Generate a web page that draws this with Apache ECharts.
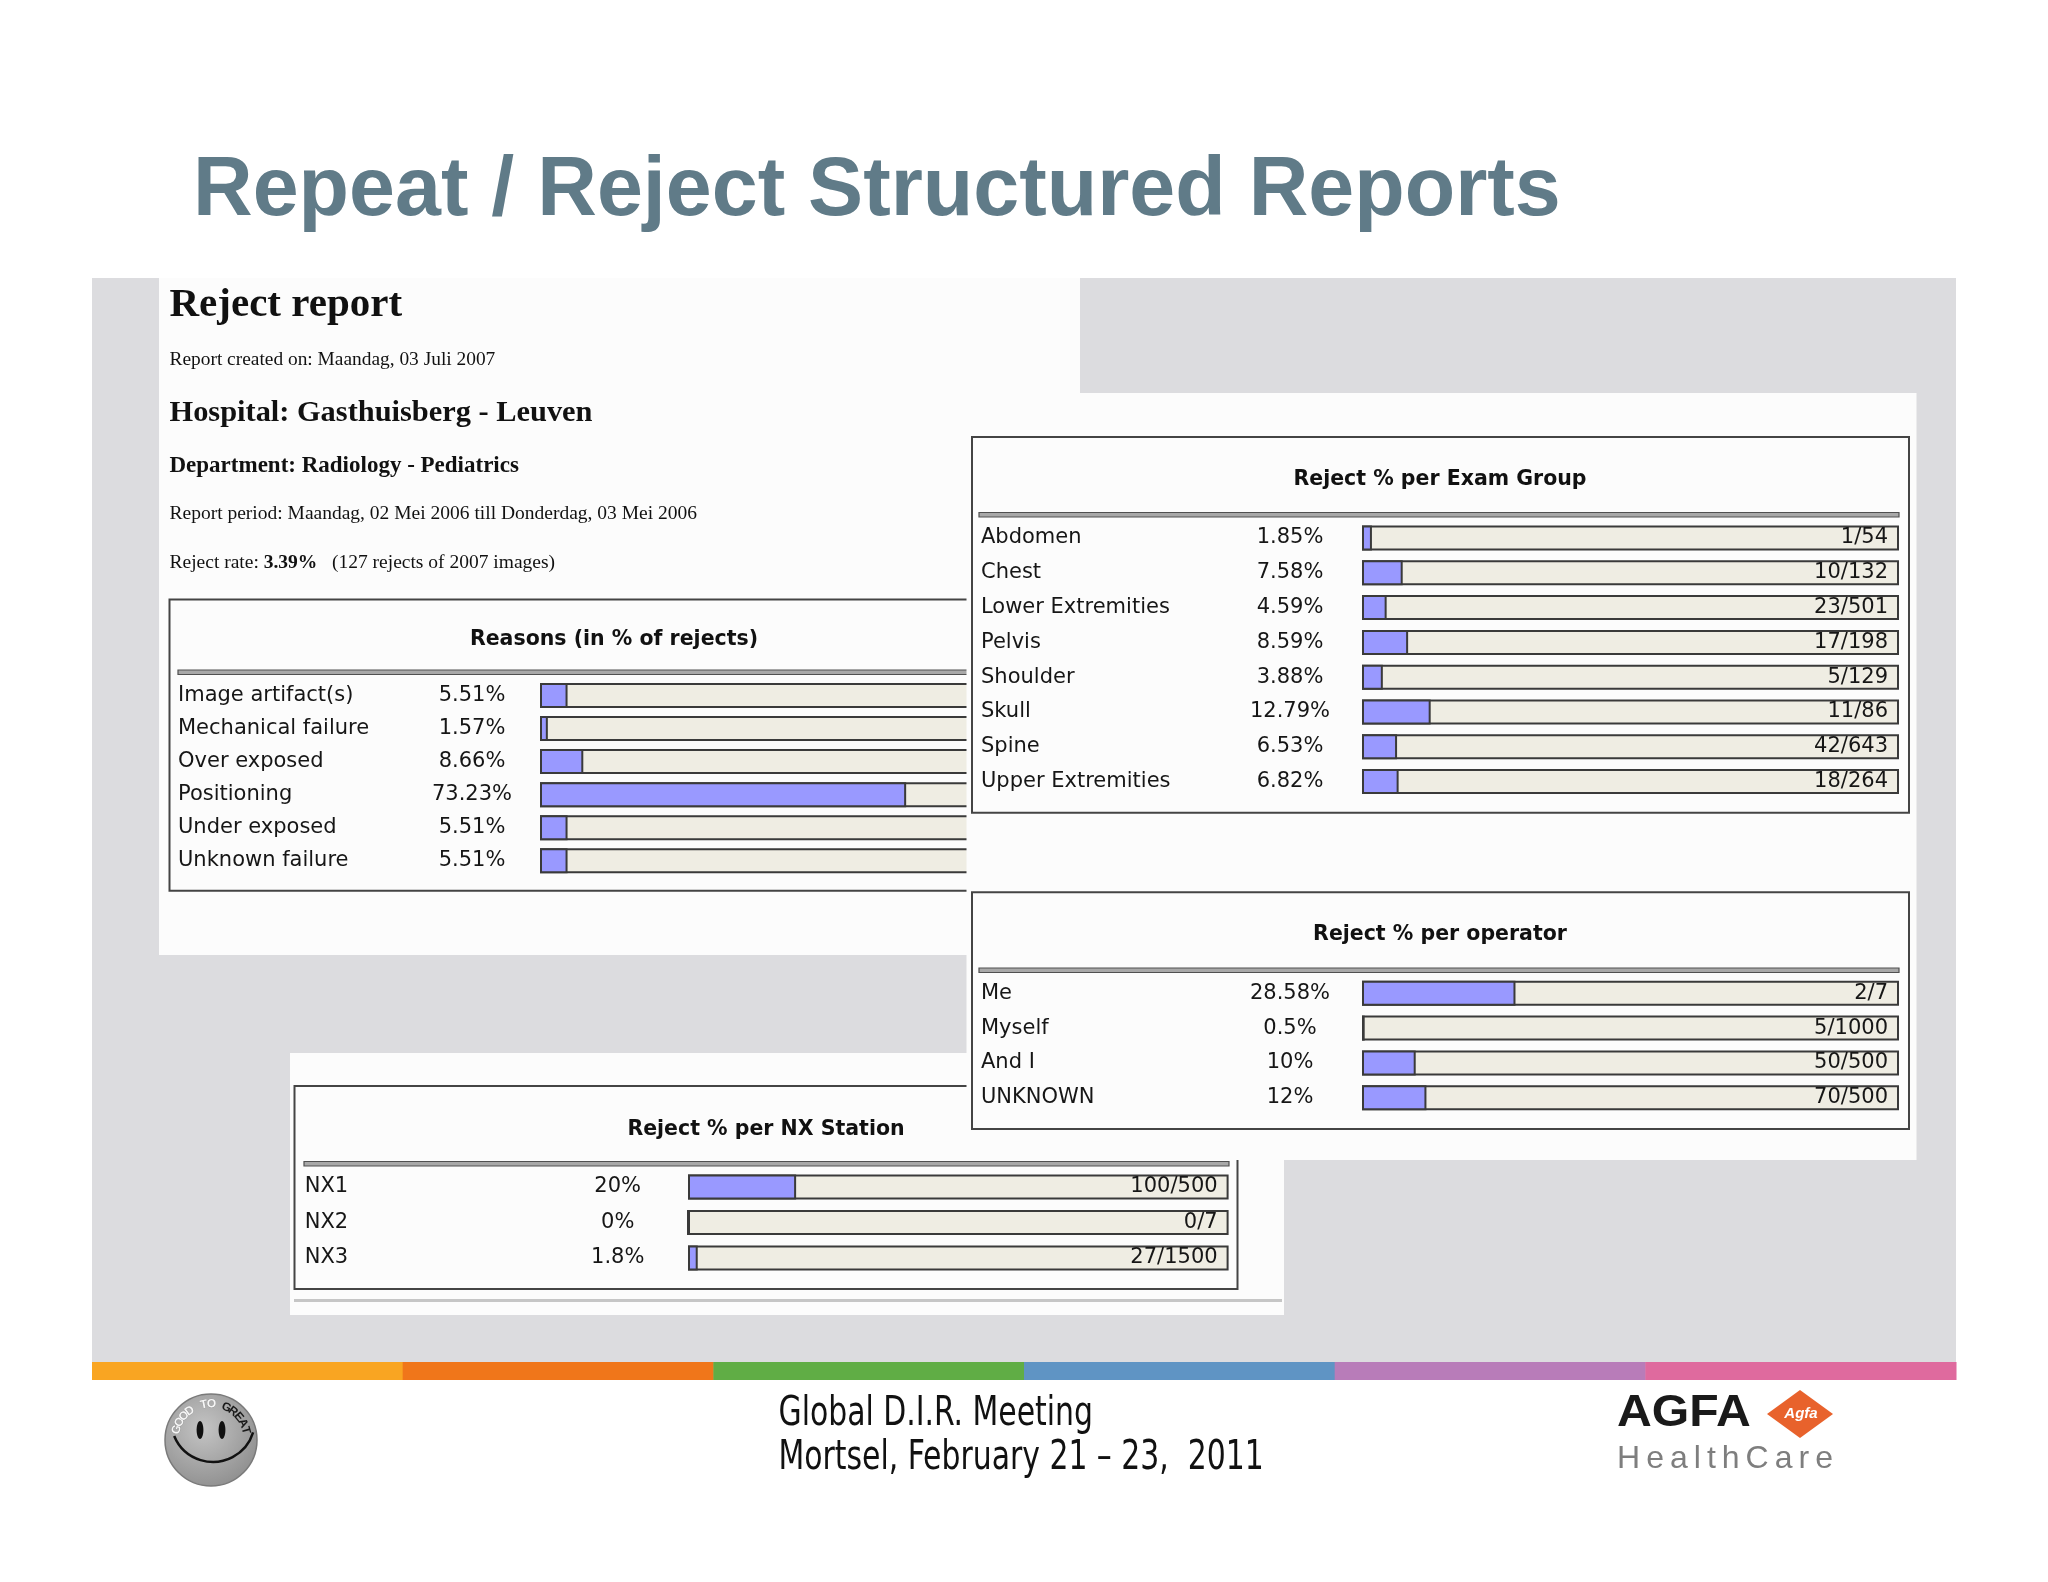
<!DOCTYPE html>
<html><head><meta charset="utf-8">
<script src="https://cdn.jsdelivr.net/npm/echarts@6/dist/echarts.min.js"></script>
<style>html,body{margin:0;padding:0;background:#fff}#c{width:2048px;height:1582px}</style>
</head><body><div id="c"></div>
<script>
// ---------- data ----------
const reasonNames = ['Image artifact(s)','Mechanical failure','Over exposed','Positioning','Under exposed','Unknown failure'];
const reasonPct = [5.51, 1.57, 8.66, 73.23, 5.51, 5.51];
const examNames = ['Abdomen','Chest','Lower Extremities','Pelvis','Shoulder','Skull','Spine','Upper Extremities'];
const examPct = [1.85, 7.58, 4.59, 8.59, 3.88, 12.79, 6.53, 6.82];
const examFrac = ['1/54','10/132','23/501','17/198','5/129','11/86','42/643','18/264'];
const operatorNames = ['Me','Myself','And I','UNKNOWN'];
const operatorPct = [28.58, 0.5, 10, 12];
const operatorFrac = ['2/7','5/1000','50/500','70/500'];
const stationNames = ['NX1','NX2','NX3'];
const stationPct = [20, 0, 1.8];
const stationFrac = ['100/500','0/7','27/1500'];

// ---------- layout ----------
const TF = 'DejaVu Sans';
const SERIF = '"Liberation Serif", "Times New Roman", serif';
const panels = [
  {names: reasonNames, pct: reasonPct, frac: null, left: 540, width: 500, c0: 695.5, rowH: 33.06, margin: 362, nameW: 249, z: 2},
  {names: examNames, pct: examPct, frac: examFrac, left: 1362, width: 537, c0: 538, rowH: 34.8, margin: 381, nameW: 264, z: 20},
  {names: operatorNames, pct: operatorPct, frac: operatorFrac, left: 1362, width: 537, c0: 993.3, rowH: 34.8, margin: 381, nameW: 264, z: 20},
  {names: stationNames, pct: stationPct, frac: stationFrac, left: 688, width: 540.6, c0: 1187, rowH: 35.5, margin: 383.3, nameW: 268, z: 8}
];

const grids = [], xAxes = [], yAxes = [], series = [];
panels.forEach((p, i) => {
  grids.push({left: p.left, width: p.width, top: p.c0 - p.rowH / 2, height: p.rowH * p.names.length});
  xAxes.push({type: 'value', gridIndex: i, min: 0, max: 100, show: false});
  yAxes.push({
    type: 'category', gridIndex: i, data: p.names, inverse: true, z: p.z,
    axisLine: {show: false}, axisTick: {show: false}, splitLine: {show: false},
    axisLabel: {
      interval: 0, align: 'left', margin: p.margin,
      formatter: (v, idx) => '{n|' + v + '}{p|' + p.pct[idx] + '%}',
      rich: {
        n: {width: p.nameW, fontFamily: TF, fontSize: 21, color: '#161616'},
        p: {width: 90, align: 'center', fontFamily: TF, fontSize: 21, color: '#161616'}
      }
    }
  });
  series.push({
    type: 'bar', xAxisIndex: i, yAxisIndex: i, z: p.z, silent: true, barWidth: 25,
    data: p.names.map(() => 100),
    itemStyle: {color: '#efede3', borderColor: '#3a3a3a', borderWidth: 2},
    label: p.frac ? {show: true, position: 'insideRight', distance: 11, fontFamily: TF, fontSize: 21, color: '#161616',
      formatter: (d) => p.frac[d.dataIndex]} : {show: false}
  });
  series.push({
    type: 'bar', xAxisIndex: i, yAxisIndex: i, z: p.z + 1, silent: true, barWidth: 25, barGap: '-100%',
    data: p.pct,
    itemStyle: {color: '#9999ff', borderColor: '#3a3a3a', borderWidth: 2}
  });
});

// ---------- decoration ----------
const g = [];
function rect(x, y, w, h, fill, z, stroke, lw) {
  g.push({type: 'rect', z: z, silent: true, shape: {x: x, y: y, width: w, height: h},
    style: {fill: fill || 'none', stroke: stroke || 'none', lineWidth: lw || 0}});
}
function text(x, y, t, font, fill, align, z, extra) {
  const o = {type: 'text', z: z, silent: true, x: x, y: y,
    style: {text: t, font: font, fill: fill, textAlign: align || 'left', textVerticalAlign: 'middle'}};
  if (extra) Object.assign(o, extra);
  g.push(o);
}
function dline(x, y, w, z) {
  rect(x, y, w, 4.5, '#a8a8a8', z, '#505050', 1.2);
}

// gray background and stripe
rect(92, 278, 1864, 1084, '#dcdcdf', 0);
const stripe = ['#f9a522', '#f0761a', '#60ad45', '#5f94c4', '#b87cb9', '#df6a9e'];
stripe.forEach((c, i) => rect(92 + i * 310.67, 1362, 310.67 + 0.5, 18, c, 0));

// panel A
rect(159, 278, 921, 677, '#fcfcfc', 1);
text(169.5, 305, 'Reject report', 'bold 41px ' + SERIF, '#111', 'left', 2);
text(169.5, 360, 'Report created on: Maandag, 03 Juli 2007', '19.4px ' + SERIF, '#111', 'left', 2);
text(169.5, 413, 'Hospital: Gasthuisberg - Leuven', 'bold 30.4px ' + SERIF, '#111', 'left', 2);
text(169.5, 466, 'Department: Radiology - Pediatrics', 'bold 23px ' + SERIF, '#111', 'left', 2);
text(169.5, 514, 'Report period: Maandag, 02 Mei 2006 till Donderdag, 03 Mei 2006', '19.5px ' + SERIF, '#111', 'left', 2);
g.push({type: 'text', z: 2, silent: true, x: 169.5, y: 563, style: {
  text: '{a|Reject rate: }{b|3.39%}{a|   (127 rejects of 2007 images)}', textVerticalAlign: 'middle',
  rich: {a: {fontFamily: SERIF, fontSize: 19.5, fill: '#111', color: '#111'},
         b: {fontFamily: SERIF, fontSize: 19.5, fontWeight: 'bold', fill: '#111', color: '#111'}}}});
rect(169.5, 599.5, 888.5, 291.3, 'none', 1, '#444', 2);
text(614, 639.5, 'Reasons (in % of rejects)', 'bold 20.5px ' + TF, '#111', 'center', 2);
dline(178, 670, 874, 2);

// panel C
rect(290, 1053, 994, 262, '#fcfcfc', 5);
rect(294.5, 1086, 943, 203, 'none', 6, '#444', 2);
text(766, 1130, 'Reject % per NX Station', 'bold 20.5px ' + TF, '#111', 'center', 6);
dline(304, 1161.5, 925, 6);
rect(294, 1299, 988, 3, '#c6c6c6', 6);

// panel B
rect(966.5, 393, 950, 767, '#fcfcfc', 10);
rect(972, 437, 937, 375.7, 'none', 11, '#444', 2);
text(1440, 480, 'Reject % per Exam Group', 'bold 20.5px ' + TF, '#111', 'center', 11);
dline(979, 512.5, 920, 11);
rect(972, 892.3, 937, 236.7, 'none', 11, '#444', 2);
text(1440, 935, 'Reject % per operator', 'bold 20.5px ' + TF, '#111', 'center', 11);
dline(979, 968, 920, 11);

// slide title
text(193, 192, 'Repeat / Reject Structured Reports', 'bold 82.6px "Liberation Sans", Arial, sans-serif', '#607b88', 'left', 3);

// footer
const NARROW = '"Liberation Sans Narrow", "DejaVu Sans Condensed", sans-serif';
text(778.5, 1415, 'Global D.I.R. Meeting', '40px ' + NARROW, '#111', 'left', 3, {scaleX: 0.83, scaleY: 1});
text(778.5, 1459, 'Mortsel, February 21 \u2013 23,  2011', '40px ' + NARROW, '#111', 'left', 3, {scaleX: 0.83, scaleY: 1});

// smiley badge
g.push({type: 'circle', z: 3, silent: true, shape: {cx: 211, cy: 1440, r: 46},
  style: {fill: {type: 'radial', x: 0.42, y: 0.38, r: 0.7, colorStops: [{offset: 0, color: '#c4c4c4'}, {offset: 1, color: '#8c8c8c'}]},
    stroke: '#7a7a7a', lineWidth: 1.5}});
g.push({type: 'ellipse', z: 4, silent: true, shape: {cx: 200, cy: 1430, rx: 3.4, ry: 9}, style: {fill: '#111'}});
g.push({type: 'ellipse', z: 4, silent: true, shape: {cx: 222, cy: 1430, rx: 3.4, ry: 9}, style: {fill: '#111'}});
g.push({type: 'arc', z: 4, silent: true, shape: {cx: 213, cy: 1420, r: 42, startAngle: 0.3, endAngle: 2.75, clockwise: true},
  style: {stroke: '#111', lineWidth: 2.5, fill: 'none'}});
const badge = 'GOOD TO GREAT';
for (let i = 0; i < badge.length; i++) {
  const th = (197 + i * 12.3) * Math.PI / 180;
  const r = 36;
  g.push({type: 'text', z: 4, silent: true, x: 211 + r * Math.cos(th), y: 1440 + r * Math.sin(th),
    rotation: -(th - 1.5 * Math.PI),
    style: {text: badge[i], font: 'bold 12px "Liberation Sans", sans-serif', fill: i < 7 ? '#f6f6f6' : '#1a1a1a',
      stroke: i < 7 ? '#8a8a8a' : 'none', lineWidth: 0.5, textAlign: 'center', textVerticalAlign: 'middle'}});
}

// AGFA logo
text(1617, 1414, 'AGFA', 'bold 45px "Liberation Sans", Arial, sans-serif', '#1a1a1a', 'left', 3, {scaleX: 1.07, scaleY: 1});
g.push({type: 'polygon', z: 3, silent: true, shape: {points: [[1767, 1414], [1800, 1390], [1833, 1414], [1800, 1438]]},
  style: {fill: '#e8622c'}});
text(1801, 1414, 'Agfa', 'italic bold 15px "Liberation Sans", sans-serif', '#ffffff', 'center', 4);
(function () {
  const word = 'HealthCare';
  const font = '32px "Liberation Sans", Arial, sans-serif';
  const ctx = document.createElement('canvas').getContext('2d');
  ctx.font = font;
  const ws = word.split('').map(ch => ctx.measureText(ch).width);
  const total = ws.reduce((a, b) => a + b, 0);
  const gap = (216 - total) / (word.length - 1);
  let x = 1617;
  word.split('').forEach((ch, i) => {
    text(x, 1459, ch, font, '#7e7e7e', 'left', 3);
    x += ws[i] + gap;
  });
})();

const chart = echarts.init(document.getElementById('c'));
chart.setOption({
  animation: false,
  backgroundColor: '#ffffff',
  grid: grids, xAxis: xAxes, yAxis: yAxes, series: series,
  graphic: {elements: g}
});
</script></body></html>
